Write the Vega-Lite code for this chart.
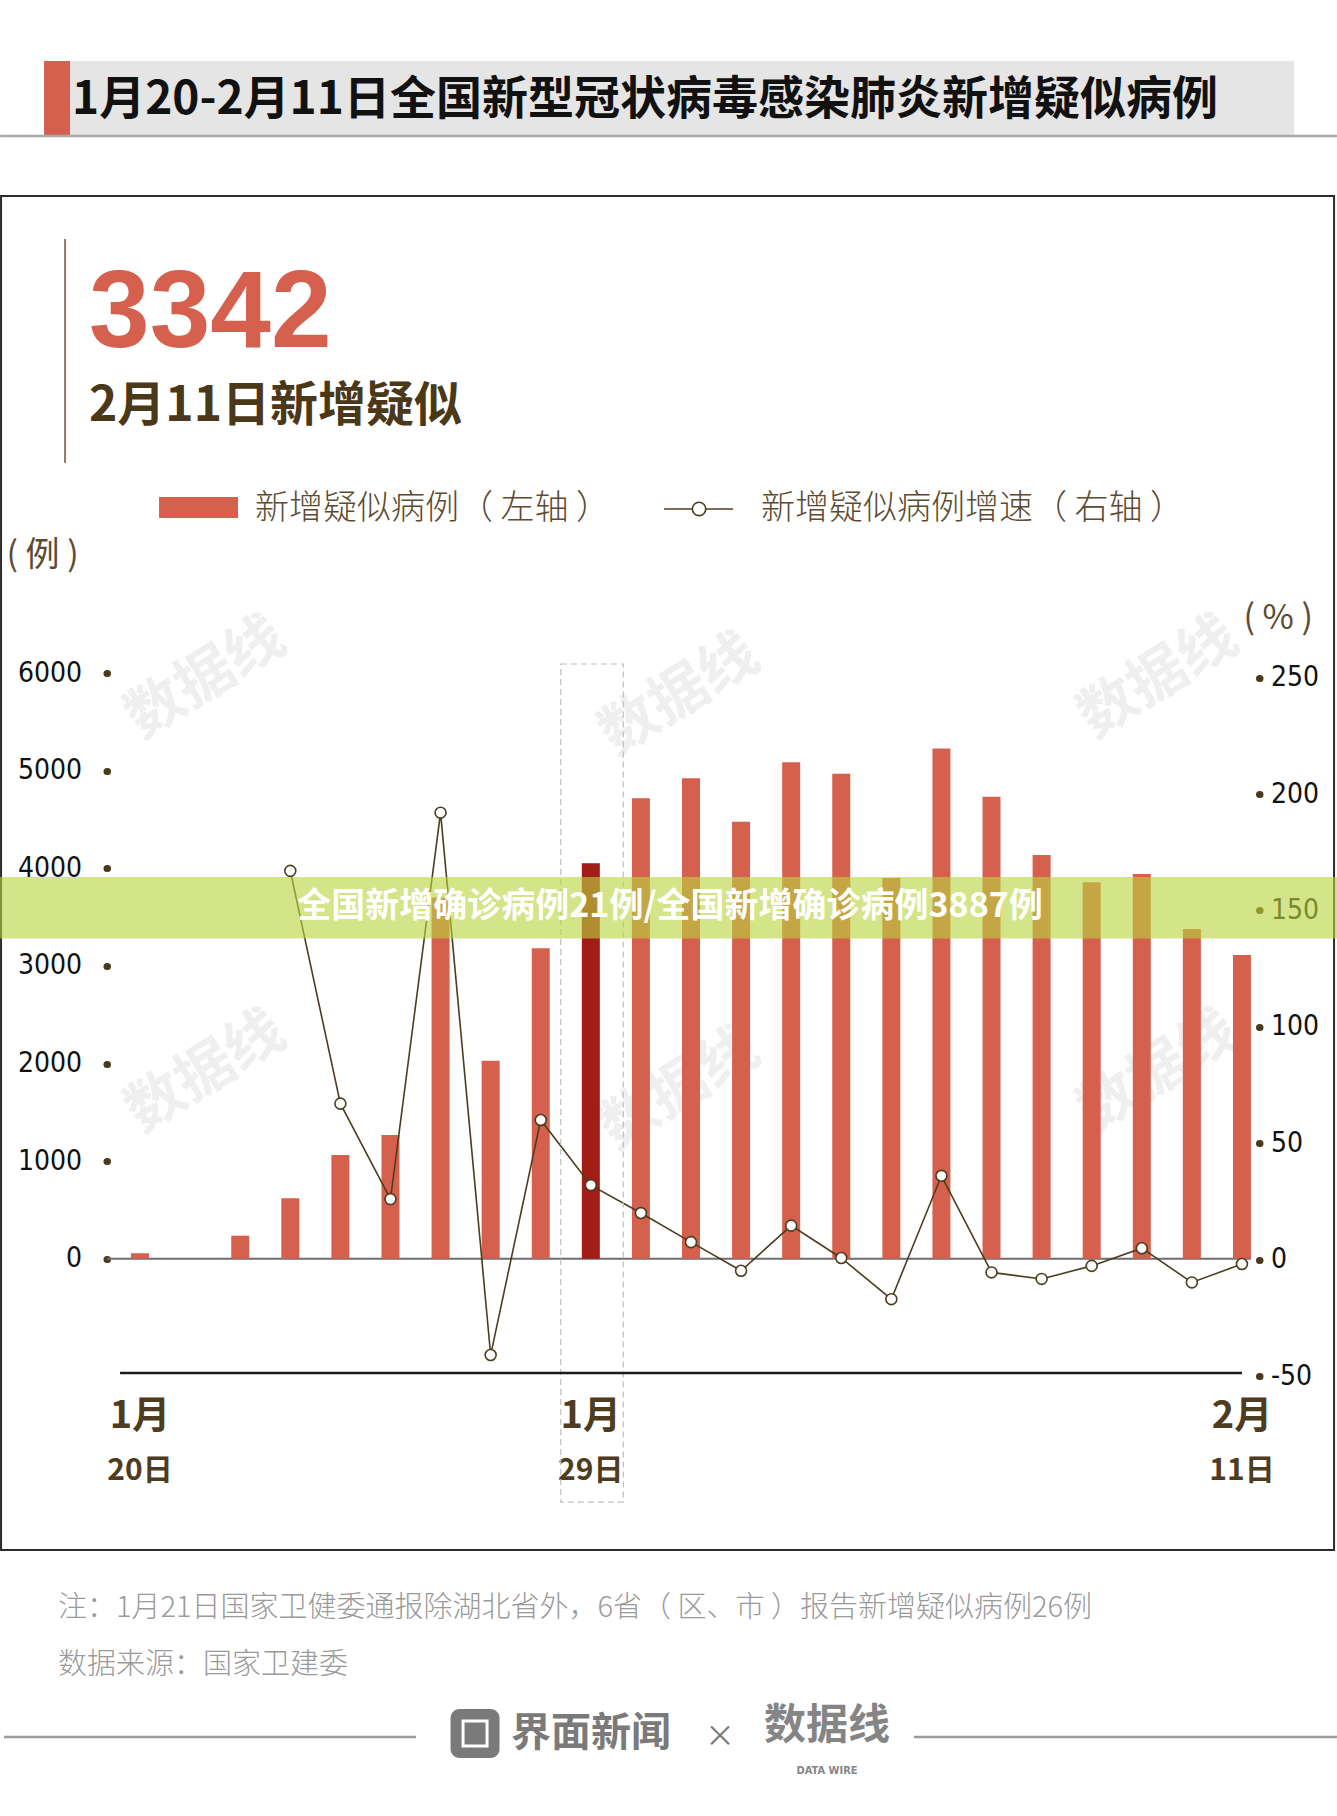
{
  "$schema": "https://vega.github.io/schema/vega-lite/v6.json",
  "autosize": {"type": "none"},
  "width": 1152,
  "height": 703,
  "padding": {"left": 115, "top": 673, "right": 70, "bottom": 440},
  "background": "white",
  "config": {"view": {"stroke": null}},
  "datasets": {
    "daily": [
      {"date": "1/20", "cases": 56, "growth": null},
      {"date": "1/21", "cases": null, "growth": null},
      {"date": "1/22", "cases": 237, "growth": null},
      {"date": "1/23", "cases": 620, "growth": 167},
      {"date": "1/24", "cases": 1063, "growth": 67},
      {"date": "1/25", "cases": 1268, "growth": 26},
      {"date": "1/26", "cases": 3700, "growth": 192},
      {"date": "1/27", "cases": 2029, "growth": -41},
      {"date": "1/28", "cases": 3180, "growth": 60},
      {"date": "1/29", "cases": 4051, "growth": 32},
      {"date": "1/30", "cases": 4716, "growth": 20},
      {"date": "1/31", "cases": 4921, "growth": 7.5},
      {"date": "2/1", "cases": 4477, "growth": -4.8},
      {"date": "2/2", "cases": 5085, "growth": 14.6},
      {"date": "2/3", "cases": 4968, "growth": 0.7},
      {"date": "2/4", "cases": 3900, "growth": -17},
      {"date": "2/5", "cases": 5228, "growth": 36},
      {"date": "2/6", "cases": 4733, "growth": -5.5},
      {"date": "2/7", "cases": 4135, "growth": -8.3},
      {"date": "2/8", "cases": 3856, "growth": -2.7},
      {"date": "2/9", "cases": 3941, "growth": 4.9},
      {"date": "2/10", "cases": 3378, "growth": -9.8},
      {"date": "2/11", "cases": 3111, "growth": -1.9}
    ],
    "one": [{}]
  },
  "resolve": {"scale": {"y": "independent"}, "axis": {"x": "independent", "y": "independent"}},
  "layer": [
    {"data": {"name": "one"}, "mark": {"type": "text", "text": "数据线", "angle": -32, "align": "center", "baseline": "middle", "dx": 19, "font": "Noto Sans CJK SC", "fontSize": 58, "fontWeight": "bold", "color": "#efefef"},
     "encoding": {"x": {"datum": "1/21", "type": "ordinal", "axis": null}, "y": {"datum": 5836, "type": "quantitative", "axis": null, "scale": {"domain": [-1200, 6000], "nice": false, "zero": false}}}},
    {"data": {"name": "one"}, "mark": {"type": "text", "text": "数据线", "angle": -32, "align": "center", "baseline": "middle", "dx": -13, "font": "Noto Sans CJK SC", "fontSize": 58, "fontWeight": "bold", "color": "#efefef"},
     "encoding": {"x": {"datum": "1/31", "type": "ordinal", "axis": null}, "y": {"datum": 5836, "type": "quantitative", "axis": null, "scale": {"domain": [-1200, 6000], "nice": false, "zero": false}}}},
    {"data": {"name": "one"}, "mark": {"type": "text", "text": "数据线", "angle": -32, "align": "center", "baseline": "middle", "dx": 20, "font": "Noto Sans CJK SC", "fontSize": 58, "fontWeight": "bold", "color": "#efefef"},
     "encoding": {"x": {"datum": "2/9", "type": "ordinal", "axis": null}, "y": {"datum": 5836, "type": "quantitative", "axis": null, "scale": {"domain": [-1200, 6000], "nice": false, "zero": false}}}},
    {"data": {"name": "one"}, "mark": {"type": "text", "text": "数据线", "angle": -32, "align": "center", "baseline": "middle", "dx": 19, "font": "Noto Sans CJK SC", "fontSize": 58, "fontWeight": "bold", "color": "#efefef"},
     "encoding": {"x": {"datum": "1/21", "type": "ordinal", "axis": null}, "y": {"datum": 1801, "type": "quantitative", "axis": null, "scale": {"domain": [-1200, 6000], "nice": false, "zero": false}}}},
    {"data": {"name": "one"}, "mark": {"type": "text", "text": "数据线", "angle": -32, "align": "center", "baseline": "middle", "dx": -13, "font": "Noto Sans CJK SC", "fontSize": 58, "fontWeight": "bold", "color": "#efefef"},
     "encoding": {"x": {"datum": "1/31", "type": "ordinal", "axis": null}, "y": {"datum": 1801, "type": "quantitative", "axis": null, "scale": {"domain": [-1200, 6000], "nice": false, "zero": false}}}},
    {"data": {"name": "one"}, "mark": {"type": "text", "text": "数据线", "angle": -32, "align": "center", "baseline": "middle", "dx": 20, "font": "Noto Sans CJK SC", "fontSize": 58, "fontWeight": "bold", "color": "#efefef"},
     "encoding": {"x": {"datum": "2/9", "type": "ordinal", "axis": null}, "y": {"datum": 1801, "type": "quantitative", "axis": null, "scale": {"domain": [-1200, 6000], "nice": false, "zero": false}}}},
    {
      "data": {"name": "one"},
      "mark": {"type": "rule", "color": "#6e6e6e", "strokeWidth": 2, "xOffset": -33, "x2Offset": 9},
      "encoding": {
        "x": {"datum": "1/20", "type": "ordinal", "axis": null},
        "x2": {"datum": "2/11"},
        "y": {"datum": 0, "type": "quantitative", "axis": null, "scale": {"domain": [-1200, 6000], "nice": false, "zero": false}}
      }
    },
    {
      "data": {"name": "daily"},
      "mark": {"type": "bar", "width": 18},
      "encoding": {
        "x": {
          "field": "date", "type": "ordinal",
          "scale": {"type": "band", "domain": ["1/20","1/21","1/22","1/23","1/24","1/25","1/26","1/27","1/28","1/29","1/30","1/31","2/1","2/2","2/3","2/4","2/5","2/6","2/7","2/8","2/9","2/10","2/11"], "paddingInner": 0, "paddingOuter": 0},
          "axis": {
            "orient": "bottom", "title": null, "domain": false, "ticks": false, "tickSize": 0, "grid": false,
            "labelAngle": 0, "labelOverlap": false, "labelBound": false, "labelFlush": false,
            "labelExpr": "datum.value === '1/20' || datum.value === '1/29' ? '1月' : (datum.value === '2/11' ? '2月' : '')",
            "labelFont": "Noto Sans CJK SC", "labelFontSize": 38, "labelFontWeight": "bold", "labelColor": "#4e3c1e",
            "labelPadding": 40, "labelBaseline": "middle"
          }
        },
        "y": {
          "field": "cases", "type": "quantitative",
          "scale": {"domain": [-1200, 6000], "nice": false, "zero": false},
          "axis": {
            "orient": "left", "values": [0, 1000, 2000, 3000, 4000, 5000, 6000], "format": "d", "offset": 8,
            "domain": false, "grid": false, "ticks": true, "tickSize": 0.5, "tickWidth": 7, "tickCap": "round", "tickColor": "#4a3a1c",
            "labelFont": "DejaVu Sans Condensed, Liberation Sans Narrow, sans-serif", "labelFontSize": 28, "labelColor": "#111111", "labelPadding": 25,
            "title": "( 例 )", "titleAngle": 0, "titleX": -101, "titleY": -118, "titleAlign": "left", "titleBaseline": "middle",
            "titleFont": "Noto Sans CJK SC", "titleFontSize": 34, "titleFontWeight": "normal", "titleColor": "#5c4b30"
          }
        },
        "color": {"condition": {"test": "datum.date === '1/29'", "value": "#a11d15"}, "value": "#d6604e"}
      }
    },
    {
      "data": {"name": "daily"},
      "transform": [{"filter": "datum.growth != null"}],
      "mark": {"type": "line", "color": "#4d3d1f", "strokeWidth": 1.6},
      "encoding": {
        "x": {
          "field": "date", "type": "ordinal",
          "axis": {
            "orient": "bottom", "title": null, "domain": false, "ticks": false, "tickSize": 0, "grid": false,
            "labelAngle": 0, "labelOverlap": false, "labelBound": false, "labelFlush": false,
            "labelExpr": "datum.value === '1/20' ? '20日' : (datum.value === '1/29' ? '29日' : (datum.value === '2/11' ? '11日' : ''))",
            "labelFont": "Noto Sans CJK SC", "labelFontSize": 30, "labelFontWeight": "bold", "labelColor": "#4e3c1e",
            "labelPadding": 94, "labelBaseline": "middle"
          }
        },
        "y": {
          "field": "growth", "type": "quantitative",
          "scale": {"domain": [-50, 252], "nice": false, "zero": false},
          "axis": {
            "orient": "right", "values": [-50, 0, 50, 100, 150, 200, 250], "format": "d", "offset": -8,
            "labelExpr": "datum.value < 0 ? '-' + abs(datum.value) : datum.label",
            "domain": false, "grid": false, "ticks": true, "tickSize": 0.5, "tickWidth": 7, "tickCap": "round", "tickColor": "#4a3a1c",
            "labelFont": "DejaVu Sans Condensed, Liberation Sans Narrow, sans-serif", "labelFontSize": 28, "labelColor": "#111111", "labelPadding": 11,
            "title": "( % )", "titleAngle": 0, "titleX": -16, "titleY": -55, "titleAlign": "left", "titleBaseline": "middle",
            "titleFont": "Noto Sans CJK SC", "titleFontSize": 34, "titleFontWeight": "normal", "titleColor": "#5c4b30"
          }
        },
        "order": {"value": null}
      }
    },
    {
      "data": {"name": "daily"},
      "transform": [{"filter": "datum.growth != null"}],
      "mark": {"type": "point", "shape": "circle", "filled": true, "fill": "white", "stroke": "#4d3d1f", "strokeWidth": 1.6, "size": 120, "opacity": 1},
      "encoding": {
        "x": {"field": "date", "type": "ordinal", "axis": null},
        "y": {"field": "growth", "type": "quantitative", "axis": null, "scale": {"domain": [-50, 252], "nice": false, "zero": false}}
      }
    },
    {
      "data": {"name": "one"},
      "mark": {"type": "bar", "width": 1250, "xOffset": 529, "fill": "#e5e5e5"},
      "encoding": {
        "x": {"datum": "1/20", "type": "ordinal", "axis": null},
        "y": {"datum": 12268, "type": "quantitative", "axis": null, "scale": {"domain": [-1200, 6000], "nice": false, "zero": false}},
        "y2": {"datum": 11505}
      }
    },
    {
      "data": {"name": "one"},
      "mark": {"type": "bar", "width": 26, "xOffset": -83, "fill": "#d6604e"},
      "encoding": {
        "x": {"datum": "1/20", "type": "ordinal", "axis": null},
        "y": {"datum": 12268, "type": "quantitative", "axis": null, "scale": {"domain": [-1200, 6000], "nice": false, "zero": false}},
        "y2": {"datum": 11505}
      }
    },
    {
      "data": {"name": "one"},
      "mark": {"type": "rule", "color": "#a9a9a9", "strokeWidth": 2.5, "xOffset": -140, "x2Offset": 95},
      "encoding": {
        "x": {"datum": "1/20", "type": "ordinal", "axis": null},
        "x2": {"datum": "2/11"},
        "y": {"datum": 11500, "type": "quantitative", "axis": null, "scale": {"domain": [-1200, 6000], "nice": false, "zero": false}}
      }
    },
    {
      "data": {"name": "one"},
      "mark": {"type": "text", "text": "1月20-2月11日全国新型冠状病毒感染肺炎新增疑似病例", "align": "left", "baseline": "middle", "dx": -68, "font": "Noto Sans CJK SC", "fontSize": 46, "fontWeight": "bold", "color": "#111111"},
      "encoding": {
        "x": {"datum": "1/20", "type": "ordinal", "axis": null},
        "y": {"datum": 11869, "type": "quantitative", "axis": null, "scale": {"domain": [-1200, 6000], "nice": false, "zero": false}}
      }
    },
    {
      "data": {"name": "one"},
      "mark": {"type": "bar", "width": 1333, "xOffset": 527.5, "fill": "transparent", "stroke": "#2b2b2b", "strokeWidth": 2},
      "encoding": {
        "x": {"datum": "1/20", "type": "ordinal", "axis": null},
        "y": {"datum": 10885, "type": "quantitative", "axis": null, "scale": {"domain": [-1200, 6000], "nice": false, "zero": false}},
        "y2": {"datum": -2982}
      }
    },
    {
      "data": {"name": "one"},
      "mark": {"type": "rule", "color": "#8c7d66", "strokeWidth": 2, "xOffset": -75},
      "encoding": {
        "x": {"datum": "1/20", "type": "ordinal", "axis": null},
        "y": {"datum": 10445, "type": "quantitative", "axis": null, "scale": {"domain": [-1200, 6000], "nice": false, "zero": false}},
        "y2": {"datum": 8151}
      }
    },
    {
      "data": {"name": "one"},
      "mark": {"type": "text", "text": "3342", "align": "left", "baseline": "alphabetic", "dx": -51, "font": "Liberation Sans, Arial, sans-serif", "fontSize": 109, "fontWeight": "bold", "color": "#d6604e"},
      "encoding": {
        "x": {"datum": "1/20", "type": "ordinal", "axis": null},
        "y": {"datum": 9339, "type": "quantitative", "axis": null, "scale": {"domain": [-1200, 6000], "nice": false, "zero": false}}
      }
    },
    {
      "data": {"name": "one"},
      "mark": {"type": "text", "text": "2月11日新增疑似", "align": "left", "baseline": "middle", "dx": -51, "font": "Noto Sans CJK SC", "fontSize": 48, "fontWeight": "bold", "color": "#4a3819"},
      "encoding": {
        "x": {"datum": "1/20", "type": "ordinal", "axis": null},
        "y": {"datum": 8724, "type": "quantitative", "axis": null, "scale": {"domain": [-1200, 6000], "nice": false, "zero": false}}
      }
    },
    {
      "data": {"name": "one"},
      "mark": {"type": "bar", "width": 79, "xOffset": 58.5, "fill": "#d6604e"},
      "encoding": {
        "x": {"datum": "1/20", "type": "ordinal", "axis": null},
        "y": {"datum": 7803, "type": "quantitative", "axis": null, "scale": {"domain": [-1200, 6000], "nice": false, "zero": false}},
        "y2": {"datum": 7588}
      }
    },
    {
      "data": {"name": "one"},
      "mark": {"type": "text", "text": "新增疑似病例（ 左轴 ）", "align": "left", "baseline": "middle", "dx": 115, "font": "Noto Sans CJK SC", "fontSize": 34, "fontWeight": 300, "color": "#5c4b30"},
      "encoding": {
        "x": {"datum": "1/20", "type": "ordinal", "axis": null},
        "y": {"datum": 7680, "type": "quantitative", "axis": null, "scale": {"domain": [-1200, 6000], "nice": false, "zero": false}}
      }
    },
    {
      "data": {"name": "one"},
      "mark": {"type": "rule", "color": "#4d3d1f", "strokeWidth": 1.6, "xOffset": 524, "x2Offset": 593},
      "encoding": {
        "x": {"datum": "1/20", "type": "ordinal", "axis": null},
        "x2": {"datum": "1/20"},
        "y": {"datum": 7680, "type": "quantitative", "axis": null, "scale": {"domain": [-1200, 6000], "nice": false, "zero": false}}
      }
    },
    {
      "data": {"name": "one"},
      "mark": {"type": "point", "shape": "circle", "filled": true, "fill": "white", "stroke": "#4d3d1f", "strokeWidth": 1.6, "size": 180, "opacity": 1, "xOffset": 559},
      "encoding": {
        "x": {"datum": "1/20", "type": "ordinal", "axis": null},
        "y": {"datum": 7680, "type": "quantitative", "axis": null, "scale": {"domain": [-1200, 6000], "nice": false, "zero": false}}
      }
    },
    {
      "data": {"name": "one"},
      "mark": {"type": "text", "text": "新增疑似病例增速（ 右轴 ）", "align": "left", "baseline": "middle", "dx": 621, "font": "Noto Sans CJK SC", "fontSize": 34, "fontWeight": 300, "color": "#5c4b30"},
      "encoding": {
        "x": {"datum": "1/20", "type": "ordinal", "axis": null},
        "y": {"datum": 7680, "type": "quantitative", "axis": null, "scale": {"domain": [-1200, 6000], "nice": false, "zero": false}}
      }
    },
    {
      "data": {"name": "one"},
      "mark": {"type": "bar", "width": 62.5, "xOffset": 1.2, "fill": "transparent", "stroke": "#bdbdbd", "strokeWidth": 1.2, "strokeDash": [6, 4]},
      "encoding": {
        "x": {"datum": "1/29", "type": "ordinal", "axis": null},
        "y": {"datum": 6092, "type": "quantitative", "axis": null, "scale": {"domain": [-1200, 6000], "nice": false, "zero": false}},
        "y2": {"datum": -2491}
      }
    },
    {
      "data": {"name": "one"},
      "mark": {"type": "rule", "color": "#1a1a1a", "strokeWidth": 2.5, "xOffset": -20},
      "encoding": {
        "x": {"datum": "1/20", "type": "ordinal", "axis": null},
        "x2": {"datum": "2/11"},
        "y": {"datum": -1169, "type": "quantitative", "axis": null, "scale": {"domain": [-1200, 6000], "nice": false, "zero": false}}
      }
    },
    {
      "data": {"name": "one"},
      "mark": {"type": "text", "text": "注：1月21日国家卫健委通报除湖北省外，6省（ 区、市 ）报告新增疑似病例26例", "align": "left", "baseline": "middle", "dx": -82, "font": "Noto Sans CJK SC", "fontSize": 29, "fontWeight": 300, "color": "#9a9a9a"},
      "encoding": {
        "x": {"datum": "1/20", "type": "ordinal", "axis": null},
        "y": {"datum": -3576, "type": "quantitative", "axis": null, "scale": {"domain": [-1200, 6000], "nice": false, "zero": false}}
      }
    },
    {
      "data": {"name": "one"},
      "mark": {"type": "text", "text": "数据来源：国家卫建委", "align": "left", "baseline": "middle", "dx": -82, "font": "Noto Sans CJK SC", "fontSize": 29, "fontWeight": 300, "color": "#9a9a9a"},
      "encoding": {
        "x": {"datum": "1/20", "type": "ordinal", "axis": null},
        "y": {"datum": -4160, "type": "quantitative", "axis": null, "scale": {"domain": [-1200, 6000], "nice": false, "zero": false}}
      }
    },
    {
      "data": {"name": "one"},
      "mark": {"type": "rule", "color": "#9c9c9c", "strokeWidth": 2.5, "xOffset": -136, "x2Offset": 276},
      "encoding": {
        "x": {"datum": "1/20", "type": "ordinal", "axis": null},
        "x2": {"datum": "1/20"},
        "y": {"datum": -4897, "type": "quantitative", "axis": null, "scale": {"domain": [-1200, 6000], "nice": false, "zero": false}}
      }
    },
    {
      "data": {"name": "one"},
      "mark": {"type": "rule", "color": "#9c9c9c", "strokeWidth": 2.5, "xOffset": -328, "x2Offset": 95},
      "encoding": {
        "x": {"datum": "2/11", "type": "ordinal", "axis": null},
        "x2": {"datum": "2/11"},
        "y": {"datum": -4897, "type": "quantitative", "axis": null, "scale": {"domain": [-1200, 6000], "nice": false, "zero": false}}
      }
    },
    {
      "data": {"name": "one"},
      "mark": {"type": "bar", "width": 49, "xOffset": 335, "fill": "#7a7a7a", "cornerRadius": 9},
      "encoding": {
        "x": {"datum": "1/20", "type": "ordinal", "axis": null},
        "y": {"datum": -4610, "type": "quantitative", "axis": null, "scale": {"domain": [-1200, 6000], "nice": false, "zero": false}},
        "y2": {"datum": -5112}
      }
    },
    {
      "data": {"name": "one"},
      "mark": {"type": "bar", "width": 24, "xOffset": 335, "fill": "transparent", "stroke": "white", "strokeWidth": 3},
      "encoding": {
        "x": {"datum": "1/20", "type": "ordinal", "axis": null},
        "y": {"datum": -4733, "type": "quantitative", "axis": null, "scale": {"domain": [-1200, 6000], "nice": false, "zero": false}},
        "y2": {"datum": -4990}
      }
    },
    {
      "data": {"name": "one"},
      "mark": {"type": "text", "text": "界面新闻", "align": "left", "baseline": "middle", "dx": 371, "font": "Noto Sans CJK SC", "fontSize": 40, "fontWeight": "bold", "color": "#7a7a7a"},
      "encoding": {
        "x": {"datum": "1/20", "type": "ordinal", "axis": null},
        "y": {"datum": -4867, "type": "quantitative", "axis": null, "scale": {"domain": [-1200, 6000], "nice": false, "zero": false}}
      }
    },
    {
      "data": {"name": "one"},
      "mark": {"type": "text", "text": "×", "align": "center", "baseline": "middle", "dx": 580, "font": "Noto Sans CJK SC", "fontSize": 30, "color": "#7a7a7a"},
      "encoding": {
        "x": {"datum": "1/20", "type": "ordinal", "axis": null},
        "y": {"datum": -4897, "type": "quantitative", "axis": null, "scale": {"domain": [-1200, 6000], "nice": false, "zero": false}}
      }
    },
    {
      "data": {"name": "one"},
      "mark": {"type": "text", "text": "数据线", "align": "center", "baseline": "middle", "dx": 687, "font": "Noto Sans CJK SC", "fontSize": 42, "fontWeight": "bold", "color": "#858585"},
      "encoding": {
        "x": {"datum": "1/20", "type": "ordinal", "axis": null},
        "y": {"datum": -4780, "type": "quantitative", "axis": null, "scale": {"domain": [-1200, 6000], "nice": false, "zero": false}}
      }
    },
    {
      "data": {"name": "one"},
      "mark": {"type": "text", "text": "DATA WIRE", "align": "center", "baseline": "middle", "dx": 687, "font": "DejaVu Sans Condensed, Liberation Sans Narrow, sans-serif", "fontSize": 11, "fontWeight": "bold", "color": "#858585"},
      "encoding": {
        "x": {"datum": "1/20", "type": "ordinal", "axis": null},
        "y": {"datum": -5245, "type": "quantitative", "axis": null, "scale": {"domain": [-1200, 6000], "nice": false, "zero": false}}
      }
    },
    {
      "data": {"name": "one"},
      "mark": {"type": "bar", "width": 1337, "xOffset": 528.5, "fill": "#b9d43f", "opacity": 0.62},
      "encoding": {
        "x": {"datum": "1/20", "type": "ordinal", "axis": null},
        "y": {"datum": 3911, "type": "quantitative", "axis": null, "scale": {"domain": [-1200, 6000], "nice": false, "zero": false}},
        "y2": {"datum": 3281}
      }
    },
    {
      "data": {"name": "one"},
      "mark": {"type": "text", "text": "全国新增确诊病例21例/全国新增确诊病例3887例", "align": "center", "baseline": "middle", "dx": 530, "font": "Noto Sans CJK SC", "fontSize": 34, "fontWeight": "bold", "color": "white"},
      "encoding": {
        "x": {"datum": "1/20", "type": "ordinal", "axis": null},
        "y": {"datum": 3603, "type": "quantitative", "axis": null, "scale": {"domain": [-1200, 6000], "nice": false, "zero": false}}
      }
    }
  ]
}
